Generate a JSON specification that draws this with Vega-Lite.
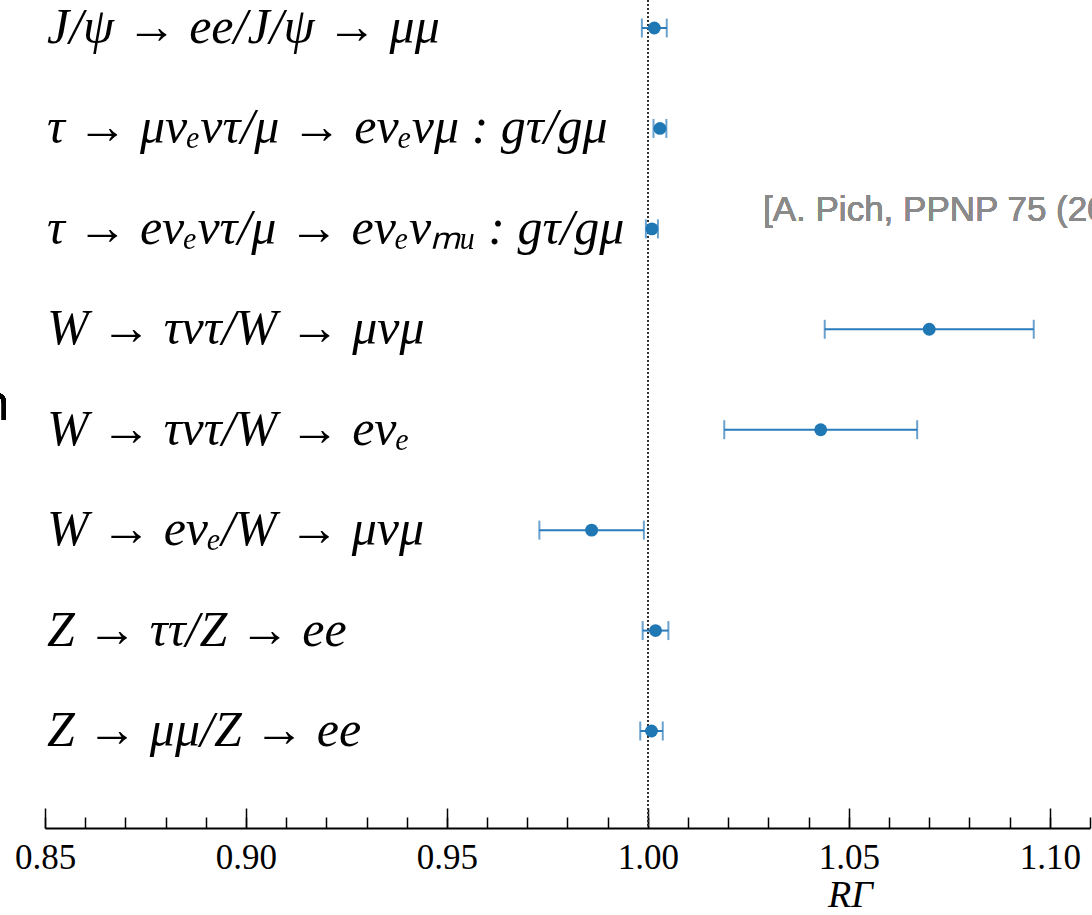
{
  "$schema": "https://vega.github.io/schema/vega-lite/v6.json",
  "autosize": "none",
  "width": 1045,
  "height": 828,
  "padding": {"left": 45, "top": 0, "right": 2, "bottom": 87},
  "background": "white",
  "config": {"view": {"stroke": null}},
  "data": {
    "values": [
      {"label": "J/ψ → ee/J/ψ → μμ", "value": 1.0016, "lo": 0.9985, "hi": 1.0047},
      {"label": "τ → μνₑντ/μ → eνₑνμ : gτ/gμ", "value": 1.0030, "lo": 1.0014, "hi": 1.0046},
      {"label": "τ → eνₑντ/μ → eνₑνₘᵤ : gτ/gμ", "value": 1.0010, "lo": 0.9995, "hi": 1.0025},
      {"label": "W → τντ/W → μνμ", "value": 1.070, "lo": 1.044, "hi": 1.096},
      {"label": "W → τντ/W → eνₑ", "value": 1.043, "lo": 1.019, "hi": 1.067},
      {"label": "W → eνₑ/W → μνμ", "value": 0.986, "lo": 0.973, "hi": 0.999},
      {"label": "Z → ττ/Z → ee", "value": 1.0019, "lo": 0.9987, "hi": 1.0051},
      {"label": "Z → μμ/Z → ee", "value": 1.0009, "lo": 0.9981, "hi": 1.0037}
    ]
  },
  "resolve": {"axis": {"x": "independent"}},
  "encoding": {
    "y": {"field": "label", "type": "nominal", "sort": null, "axis": null,
      "scale": {"type": "point", "padding": 0.6223, "align": 0.224}}
  },
  "layer": [
    {
      "mark": {"type": "rule", "color": "#333333", "strokeDash": [2, 2], "strokeWidth": 1.3},
      "encoding": {"x": {"datum": 1.0, "type": "quantitative", "axis": null}, "y": null}
    },
    {
      "mark": {"type": "rule", "color": "#2b7bba", "strokeWidth": 2},
      "encoding": {
        "x": {"field": "lo", "type": "quantitative",
          "scale": {"domain": [0.85, 1.11], "nice": false, "zero": false},
          "axis": {"orient": "bottom", "values": [0.85, 0.9, 0.95, 1.0, 1.05, 1.1], "format": ".2f",
            "tickSize": -20, "tickWidth": 1.5, "tickColor": "black", "domainColor": "black", "domainWidth": 2,
            "labelFont": "Liberation Serif", "labelFontSize": 35, "labelColor": "black", "labelPadding": 32,
            "labelFlush": false, "grid": false,
            "title": "RΓ", "titleFont": "Liberation Serif", "titleFontStyle": "italic", "titleFontWeight": "normal",
            "titleFontSize": 38, "titleColor": "black", "titleX": 805, "titleY": 78,
            "titleAlign": "center", "titleBaseline": "alphabetic", "titleAnchor": null}},
        "x2": {"field": "hi"}
      }
    },
    {
      "mark": {"type": "tick", "color": "#2b7bba", "thickness": 2, "size": 19, "orient": "vertical"},
      "encoding": {
        "x": {"field": "lo", "type": "quantitative",
          "axis": {"orient": "bottom", "values": [0.85,0.86,0.87,0.88,0.89,0.9,0.91,0.92,0.93,0.94,0.95,0.96,0.97,0.98,0.99,1.0,1.01,1.02,1.03,1.04,1.05,1.06,1.07,1.08,1.09,1.1,1.11],
            "labels": false, "domain": false, "grid": false, "title": null,
            "tickSize": -11, "tickWidth": 1.5, "tickColor": "black"}}
      }
    },
    {
      "mark": {"type": "tick", "color": "#2b7bba", "thickness": 2, "size": 19, "orient": "vertical"},
      "encoding": {"x": {"field": "hi", "type": "quantitative", "axis": null}}
    },
    {
      "mark": {"type": "point", "filled": true, "opacity": 1, "color": "#1f77b4", "size": 165},
      "encoding": {"x": {"field": "value", "type": "quantitative", "axis": null}}
    },
    {
      "mark": {"type": "text", "align": "left", "baseline": "middle", "dx": 2, "font": "Liberation Serif",
        "fontStyle": "italic", "fontSize": 50, "color": "black"},
      "encoding": {
        "x": {"datum": 0.85, "type": "quantitative", "axis": null},
        "text": {"field": "label"}
      }
    },
    {
      "mark": {"type": "text", "align": "left", "baseline": "middle", "dx": 718, "dy": -19,
        "font": "Liberation Sans", "fontSize": 35, "color": "#8a8a8a",
        "text": "[A. Pich, PPNP 75 (2014) 41]"},
      "encoding": {
        "x": {"datum": 0.85, "type": "quantitative", "axis": null},
        "y": {"datum": "τ → eνₑντ/μ → eνₑνₘᵤ : gτ/gμ", "type": "nominal"}
      }
    },
    {
      "mark": {"type": "text", "align": "right", "baseline": "middle", "dx": -35, "dy": -25,
        "font": "Open Sans", "fontSize": 50, "color": "black", "text": "n"},
      "encoding": {
        "x": {"datum": 0.85, "type": "quantitative", "axis": null},
        "y": {"datum": "W → τντ/W → eνₑ", "type": "nominal"}
      }
    }
  ]
}
